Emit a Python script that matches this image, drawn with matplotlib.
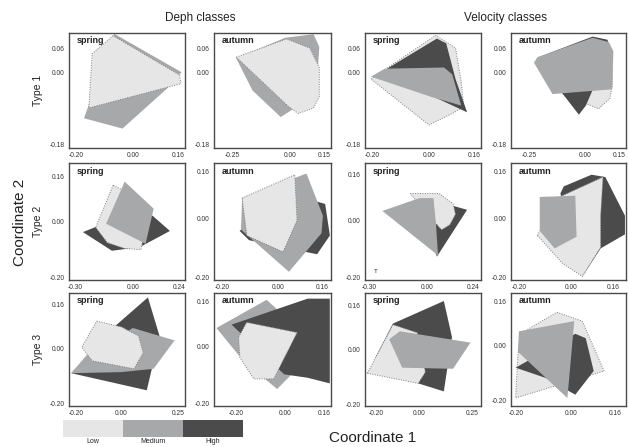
import matplotlib
matplotlib.use("Agg")
import matplotlib.pyplot as plt
from matplotlib.patches import Polygon, Rectangle

plt.rcParams["font.family"] = ["Liberation Sans", "DejaVu Sans"]

# ---- data: ordination hulls (Coordinate 1, Coordinate 2) per class ----
classes = ["Low", "Medium", "High"]
class_colors = {"Low": "#e6e6e6", "Medium": "#a6a8aa", "High": "#4b4b4b"}

# Type 1
t1_dep_spring = [
    ("Medium", [(-0.065, 0.098), (0.173, 0.001), (0.128, -0.036), (-0.036, -0.141), (-0.172, -0.115), (-0.159, -0.089)]),
    ("Low", [(-0.069, 0.093), (-0.143, 0.048), (-0.155, -0.089), (0.170, -0.028), (0.166, -0.006)]),
]
t1_dep_autumn = [
    ("Medium", [(-0.233, 0.036), (-0.019, 0.088), (0.104, 0.097), (0.129, 0.065), (0.124, 0.022),
                (0.017, -0.091), (-0.039, -0.112), (-0.162, -0.045)]),
    ("Low", [(-0.233, 0.039), (-0.014, 0.085), (0.088, 0.062), (0.129, 0.013), (0.129, -0.060),
             (0.104, -0.089), (0.037, -0.103), (-0.004, -0.086)]),
]
t1_vel_spring = [
    ("Low", [(-0.204, -0.016), (0.025, 0.094), (0.095, 0.062), (0.115, -0.022), (0.124, -0.086),
             (0.083, -0.103), (0.001, -0.132)]),
    ("High", [(-0.147, 0.010), (0.029, 0.086), (0.062, 0.074), (0.095, -0.016), (0.136, -0.100), (0.021, -0.062)]),
    ("Medium", [(-0.204, -0.010), (-0.155, 0.010), (0.054, 0.013), (0.083, -0.004), (0.115, -0.083), (0.013, -0.062)]),
]
t1_vel_autumn = [
    ("Low", [(-0.100, -0.054), (-0.014, -0.074), (0.058, -0.091), (0.109, -0.065), (0.119, -0.031),
             (0.119, 0.013), (-0.024, -0.002)]),
    ("High", [(-0.208, 0.039), (0.032, 0.091), (0.098, 0.083), (0.109, 0.057), (0.002, -0.083),
              (-0.029, -0.106), (-0.100, -0.054)]),
    ("Medium", [(-0.228, 0.025), (-0.213, 0.039), (0.032, 0.088), (0.104, 0.077), (0.124, 0.054),
                (0.119, -0.042), (-0.146, -0.054)]),
]

# Type 2
t2_dep_spring = [
    ("High", [(-0.258, -0.038), (-0.150, -0.008), (0.102, 0.021), (0.192, -0.034), (0.036, -0.092), (-0.108, -0.105)]),
    ("Low", [(-0.102, 0.130), (-0.192, -0.021), (-0.132, -0.076), (-0.042, -0.097), (0.042, -0.101),
             (0.060, -0.042), (-0.030, 0.105)]),
    ("Medium", [(-0.042, 0.143), (0.108, 0.046), (0.066, -0.080), (-0.138, -0.008)]),
]
t2_dep_autumn = [
    ("High", [(-0.138, -0.042), (0.022, 0.090), (0.169, 0.050), (0.186, -0.058), (0.140, -0.122), (-0.104, -0.074)]),
    ("Medium", [(-0.129, 0.070), (0.102, 0.154), (0.161, 0.010), (0.156, -0.050), (0.039, -0.182), (-0.133, -0.038)]),
    ("Low", [(-0.129, 0.070), (0.060, 0.150), (0.068, -0.006), (0.018, -0.114), (-0.112, -0.058)]),
]
t2_vel_spring = [
    ("High", [(0.010, -0.046), (0.124, 0.052), (0.208, 0.036), (0.052, -0.128)]),
    ("Low", [(-0.086, 0.093), (0.064, 0.093), (0.136, 0.057), (0.148, 0.020), (0.118, -0.017),
             (0.076, -0.034), (0.010, 0.016)]),
    ("Medium", [(-0.230, 0.032), (-0.038, 0.077), (0.034, 0.077), (0.046, -0.005), (0.058, -0.124)]),
]
t2_vel_autumn = [
    ("High", [(-0.041, 0.086), (-0.028, 0.110), (0.078, 0.150), (0.131, 0.142), (0.206, 0.010),
              (0.206, -0.054), (0.113, -0.102), (0.043, -0.198)]),
    ("Low", [(-0.129, -0.058), (-0.054, 0.070), (0.122, 0.142), (0.113, 0.010), (0.113, -0.098),
             (0.043, -0.198), (-0.032, -0.154)]),
    ("Medium", [(-0.120, 0.074), (0.016, 0.078), (0.021, -0.062), (-0.063, -0.102), (-0.120, -0.042)]),
]

# Type 3
t3_dep_spring = [
    ("High", [(-0.026, 0.081), (0.117, 0.184), (0.168, 0.044), (0.112, -0.153), (-0.220, -0.091)]),
    ("Medium", [(-0.220, -0.091), (-0.153, -0.026), (0.051, 0.073), (0.234, 0.028), (0.142, -0.075), (0.000, -0.087)]),
    ("Low", [(-0.108, 0.098), (0.000, 0.077), (0.076, 0.044), (0.096, -0.017), (0.056, -0.075),
             (-0.128, -0.046), (-0.174, 0.003)]),
]
t3_dep_autumn = [
    ("Medium", [(-0.280, 0.066), (-0.074, 0.166), (0.022, 0.090), (0.065, -0.066), (-0.031, -0.150), (-0.170, -0.050)]),
    ("High", [(-0.218, 0.078), (0.094, 0.170), (0.185, 0.170), (0.185, -0.130), (0.094, -0.110), (-0.002, -0.098)]),
    ("Low", [(-0.189, 0.034), (-0.156, 0.086), (0.051, 0.050), (-0.045, -0.114), (-0.127, -0.114), (-0.184, -0.038)]),
]
t3_vel_spring = [
    ("High", [(-0.201, -0.029), (-0.120, 0.094), (0.117, 0.176), (0.155, 0.045), (0.117, -0.152), (-0.002, -0.123)]),
    ("Low", [(-0.239, -0.086), (-0.120, 0.090), (-0.007, 0.061), (0.031, -0.082), (-0.002, -0.123)]),
    ("Medium", [(-0.137, 0.037), (-0.088, 0.066), (0.241, 0.025), (0.160, -0.070), (-0.077, -0.066)]),
]
t3_vel_autumn = [
    ("Low", [(-0.052, 0.120), (0.040, 0.088), (0.120, -0.093), (-0.203, -0.191), (-0.195, -0.036), (-0.178, 0.047)]),
    ("High", [(-0.203, -0.081), (0.015, 0.042), (0.053, 0.026), (0.082, -0.093), (0.015, -0.179), (-0.094, -0.118)]),
    ("Medium", [(-0.191, 0.051), (0.011, 0.088), (-0.014, -0.191), (-0.195, -0.023)]),
]

panels = [
    [t1_dep_spring, t1_dep_autumn, t1_vel_spring, t1_vel_autumn],
    [t2_dep_spring, t2_dep_autumn, t2_vel_spring, t2_vel_autumn],
    [t3_dep_spring, t3_dep_autumn, t3_vel_spring, t3_vel_autumn],
]
seasons = ["spring", "autumn", "spring", "autumn"]
row_labels = ["Type 1", "Type 2", "Type 3"]
group_titles = ["Deph classes", "Velocity classes"]

# axis ranges and tick labels per panel
xlims = [
    [(-0.225, 0.185), (-0.33, 0.18), (-0.225, 0.185), (-0.33, 0.18)],
    [(-0.33, 0.27), (-0.23, 0.19), (-0.32, 0.28), (-0.23, 0.21)],
    [(-0.23, 0.28), (-0.29, 0.19), (-0.25, 0.29), (-0.22, 0.20)],
]
ylims = [
    [(-0.19, 0.10)] * 4,
    [(-0.21, 0.21), (-0.21, 0.19), (-0.21, 0.20), (-0.21, 0.19)],
    [(-0.21, 0.20), (-0.21, 0.19), (-0.205, 0.205), (-0.22, 0.19)],
]
xticks = [
    [[-0.20, 0.00, 0.16], [-0.25, 0.00, 0.15], [-0.20, 0.00, 0.16], [-0.25, 0.00, 0.15]],
    [[-0.30, 0.00, 0.24], [-0.20, 0.00, 0.16], [-0.30, 0.00, 0.24], [-0.20, 0.00, 0.16]],
    [[-0.20, 0.00, 0.25], [-0.20, 0.00, 0.16], [-0.20, 0.00, 0.25], [-0.20, 0.00, 0.16]],
]
yticks = [[0.06, 0.00, -0.18], [0.16, 0.00, -0.20], [0.16, 0.00, -0.20]]

# ---- figure ----
W, H = 629, 447
fig = plt.figure(figsize=(W / 100, H / 100), dpi=100)

col_left = [69, 214, 365, 511]
col_w = [116, 117, 116, 115]
row_top = [33, 163, 293]
row_h = [115, 117, 113]

for r in range(3):
    for c in range(4):
        ax = fig.add_axes([col_left[c] / W, 1 - (row_top[r] + row_h[r]) / H,
                           col_w[c] / W, row_h[r] / H])
        for cls, pts in panels[r][c]:
            if cls == "Low":
                poly = Polygon(pts, closed=True, facecolor=class_colors[cls],
                               edgecolor="#808080", linestyle=(0, (1, 1.5)), linewidth=0.7)
            else:
                poly = Polygon(pts, closed=True, facecolor=class_colors[cls], edgecolor="none")
            ax.add_patch(poly)
        ax.set_xlim(*xlims[r][c])
        ax.set_ylim(*ylims[r][c])
        ax.set_xticks(xticks[r][c])
        ax.set_xticklabels([f"{v:.2f}" for v in xticks[r][c]])
        ax.set_yticks(yticks[r])
        ax.set_yticklabels([f"{v:.2f}" for v in yticks[r]])
        ax.tick_params(length=0, labelsize=4.8, labelcolor="#333333", pad=3)
        for sp in ax.spines.values():
            sp.set_color("#4a4a4a")
            sp.set_linewidth(1.0)
        ax.text(0.07, 0.97, seasons[c], transform=ax.transAxes, ha="left", va="top",
                fontsize=6.5, fontweight="bold", color="#222222")
        if r == 1 and c == 2:
            ax.text(0.08, 0.06, "T", transform=ax.transAxes, fontsize=4.5, color="#222222")

# titles and axis labels
fig.text(200 / W, 1 - 18 / H, group_titles[0], ha="center", va="center", fontsize=8.5, color="#222222")
fig.text(505 / W, 1 - 18 / H, group_titles[1], ha="center", va="center", fontsize=8.5, color="#222222")
for r, lab in enumerate(row_labels):
    yc = row_top[r] + row_h[r] / 2
    fig.text(38 / W, 1 - yc / H, lab, rotation=90, ha="center", va="center", fontsize=7.5, color="#222222")
fig.text(20 / W, 1 - 222 / H, "Coordinate 2", rotation=90, ha="center", va="center", fontsize=11, color="#222222")
fig.text(373 / W, 1 - 438 / H, "Coordinate 1", ha="center", va="center", fontsize=11, color="#222222")

# legend bar
lax = fig.add_axes([63 / W, 1 - 437 / H, 180 / W, 17 / H])
for i, cls in enumerate(classes):
    lax.add_patch(Rectangle((i, 0), 1, 1, facecolor=class_colors[cls], edgecolor="none"))
    lax.text(i + 0.5, -0.08, cls, ha="center", va="top", fontsize=5, color="#222222", clip_on=False)
lax.set_xlim(0, 3)
lax.set_ylim(0, 1)
lax.axis("off")

fig.savefig("out.png", dpi=100)
